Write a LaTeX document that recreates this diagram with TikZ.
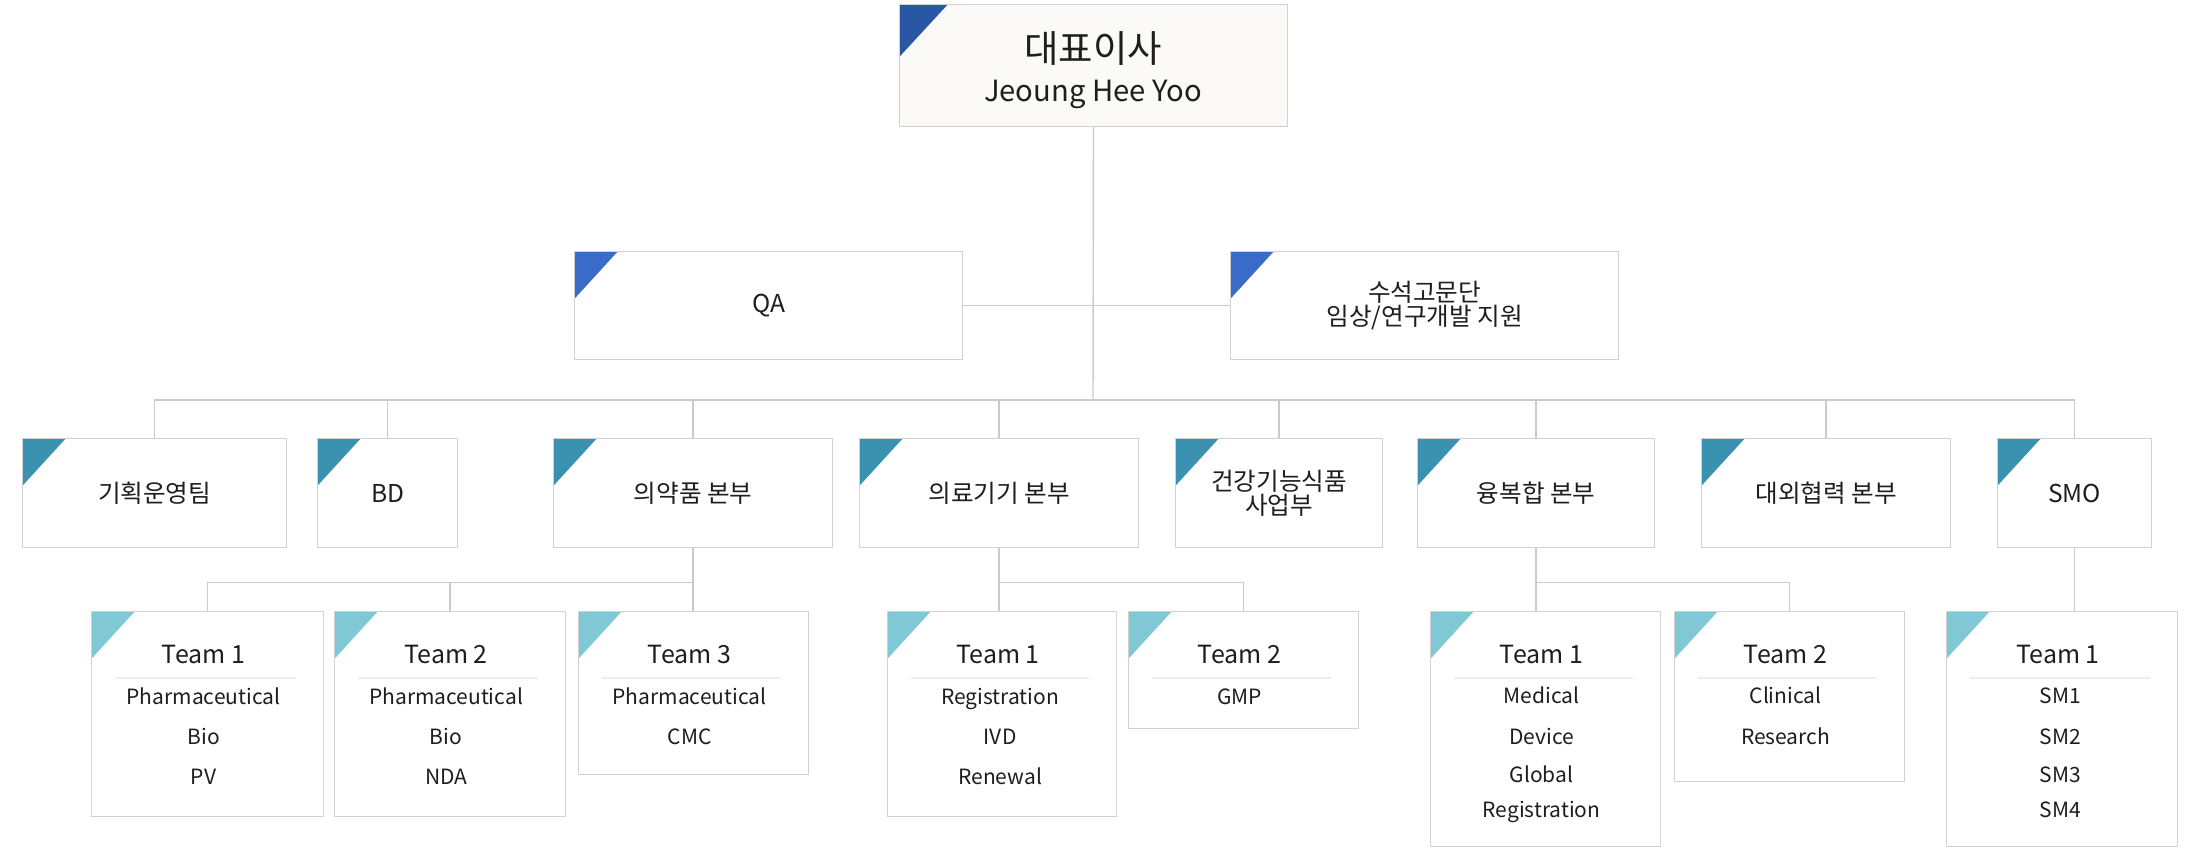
\documentclass[tikz,border=0pt]{standalone}
\usepackage{fontspec}
\setmainfont{Noto Sans CJK KR}
\usetikzlibrary{positioning}
\definecolor{ceoblue}{HTML}{2A57A3}
\definecolor{topblue}{HTML}{3A6BC9}
\definecolor{teal}{HTML}{3A91B0}
\definecolor{lightteal}{HTML}{80C8D6}
\definecolor{boxgray}{HTML}{D2D2D2}
\definecolor{linkgray}{HTML}{CACACA}
\definecolor{sepgray}{HTML}{EDEDED}
\definecolor{ceofill}{HTML}{FBFAF8}
\definecolor{ink}{HTML}{1E1E1E}
\tikzset{box/.style = {draw=boxgray, line width=0.6pt, fill=white, rectangle,
                       inner sep=0, anchor=north west, align=center, text=ink,
                       font=\fontsize{12.3}{12.3}\selectfont}}
\tikzset{corner/.style = {path picture={\fill [#1] (path picture bounding box.north west)
                          -- ++(21.5pt,0pt) -- ++(-21.5pt,-23.5pt) -- cycle;}}}
\tikzset{bigcorner/.style = {path picture={\fill [#1] (path picture bounding box.north west)
                             -- ++(24pt,0pt) -- ++(-24pt,-26pt) -- cycle;}}}
\tikzset{link/.style = {draw=linkgray, line width=0.7pt}}
\tikzset{sep/.style = {draw=sepgray, line width=0.6pt}}
\tikzset{title/.style = {anchor=base, inner sep=0, text=ink, font=\fontsize{12.5}{14}\selectfont}}
\tikzset{item/.style = {anchor=base, inner sep=0, text=ink, font=\fontsize{10.5}{12}\selectfont}}

\begin{document}
\begin{tikzpicture}[x=0.5pt, y=-0.5pt]
  \useasboundingbox (0,0) rectangle (2200,850);

  % top
  \node [box, fill=ceofill, bigcorner=ceoblue, minimum width=194pt, minimum height=61pt] (ceo) at (899,4) {};
  \node [anchor=base, inner sep=0, text=ink, font=\fontsize{18.7}{20}\selectfont] (ceokr) at (1093,63) {대표이사};
  \node [anchor=base, inner sep=0, text=ink, font=\fontsize{14.6}{16}\selectfont] (ceoen) at (1093,102) {Jeoung Hee Yoo};

  \node [box, corner=topblue, minimum width=194pt, minimum height=54pt] (qa) at (574,251) {QA};
  \node [box, corner=topblue, minimum width=194pt, minimum height=54pt] (advisor) at (1230,251) {수석고문단\\임상/연구개발 지원};

  % divisions
  \node [box, corner=teal, minimum width=132pt, minimum height=54.5pt] (plan) at (22,438) {기획운영팀};
  \node [box, corner=teal, minimum width=70pt, minimum height=54.5pt] (bd) at (317,438) {BD};
  \node [box, corner=teal, minimum width=139.5pt, minimum height=54.5pt] (pharma) at (553,438) {의약품 본부};
  \node [box, corner=teal, minimum width=139.5pt, minimum height=54.5pt] (device) at (859,438) {의료기기 본부};
  \node [box, corner=teal, minimum width=103.5pt, minimum height=54.5pt] (food) at (1175,438) {건강기능식품\\사업부};
  \node [box, corner=teal, minimum width=118.5pt, minimum height=54.5pt] (conv) at (1417,438) {융복합 본부};
  \node [box, corner=teal, minimum width=124.5pt, minimum height=54.5pt] (coop) at (1701,438) {대외협력 본부};
  \node [box, corner=teal, minimum width=77pt, minimum height=54.5pt] (smo) at (1997,438) {SMO};

  % teams
  \node [box, corner=lightteal, minimum width=116pt, minimum height=102.5pt] (pt1) at (91,611) {};
  \node [box, corner=lightteal, minimum width=115.5pt, minimum height=102.5pt] (pt2) at (334,611) {};
  \node [box, corner=lightteal, minimum width=115pt, minimum height=81.5pt] (pt3) at (578,611) {};
  \node [box, corner=lightteal, minimum width=114.5pt, minimum height=102.5pt] (dt1) at (887,611) {};
  \node [box, corner=lightteal, minimum width=115pt, minimum height=58.5pt] (dt2) at (1128,611) {};
  \node [box, corner=lightteal, minimum width=115pt, minimum height=117.5pt] (ct1) at (1430,611) {};
  \node [box, corner=lightteal, minimum width=115pt, minimum height=85pt] (ct2) at (1674,611) {};
  \node [box, corner=lightteal, minimum width=115.5pt, minimum height=117.5pt] (st1) at (1946,611) {};

  \foreach \t/\n in {pt1/Team 1, pt2/Team 2, pt3/Team 3, dt1/Team 1, dt2/Team 2, ct1/Team 1, ct2/Team 2, st1/Team 1} {
    \node [title] (\t-title) at ([xshift=-2pt, yshift=-26pt]\t.north) {\n};
    \draw [sep] ([xshift=12pt, yshift=-33.5pt]\t.north west) -- ([xshift=-14pt, yshift=-33.5pt]\t.north east);
  }
  \foreach \s/\y [count=\i] in {Pharmaceutical/46.5, Bio/66.5, PV/86.5}
    \node [item] (pt1-\i) at ([xshift=-2pt, yshift=-\y pt]pt1.north) {\s};
  \foreach \s/\y [count=\i] in {Pharmaceutical/46.5, Bio/66.5, NDA/86.5}
    \node [item] (pt2-\i) at ([xshift=-2pt, yshift=-\y pt]pt2.north) {\s};
  \foreach \s/\y [count=\i] in {Pharmaceutical/46.5, CMC/66.5}
    \node [item] (pt3-\i) at ([xshift=-2pt, yshift=-\y pt]pt3.north) {\s};
  \foreach \s/\y [count=\i] in {Registration/46.5, IVD/66.5, Renewal/86.5}
    \node [item] (dt1-\i) at ([xshift=-1pt, yshift=-\y pt]dt1.north) {\s};
  \node [item] (dt2-1) at ([xshift=-2pt, yshift=-46.5pt]dt2.north) {GMP};
  \foreach \s/\y [count=\i] in {Medical/46, Device/66.5, Global/85.5, Registration/103}
    \node [item] (ct1-\i) at ([xshift=-2pt, yshift=-\y pt]ct1.north) {\s};
  \foreach \s/\y [count=\i] in {Clinical/46, Research/66.5}
    \node [item] (ct2-\i) at ([xshift=-2pt, yshift=-\y pt]ct2.north) {\s};
  \foreach \s/\y [count=\i] in {SM1/46, SM2/66.5, SM3/85.5, SM4/103}
    \node [item] (st1-\i) at ([xshift=-1pt, yshift=-\y pt]st1.north) {\s};

  % links
  \coordinate (hub) at (1093,400);
  \draw [link] (ceo) -- (hub);
  \draw [link] (qa) -- (advisor);
  \draw [link] (plan.north) |- (hub) -| (smo.north);
  \foreach \n in {bd, pharma, device, food, conv, coop}
    \draw [link] (\n.north) -- (\n.north |- hub);

  \path (pharma.south) ++(0pt,-17pt) coordinate (pharmaj);
  \draw [link] (pharma.south) -- (pharma.south |- pt3.north);
  \draw [link] (pt1.north) |- (pharmaj);
  \draw [link] (pt2.north) -- (pt2.north |- pharmaj);

  \path (device.south) ++(0pt,-17pt) coordinate (devicej);
  \draw [link] (device.south) -- (device.south |- dt1.north);
  \draw [link] (devicej) -| (dt2.north);

  \path (conv.south) ++(0pt,-17pt) coordinate (convj);
  \draw [link] (conv.south) -- (conv.south |- ct1.north);
  \draw [link] (convj) -| (ct2.north);

  \draw [link] (smo.south) -- (smo.south |- st1.north);
\end{tikzpicture}
\end{document}
